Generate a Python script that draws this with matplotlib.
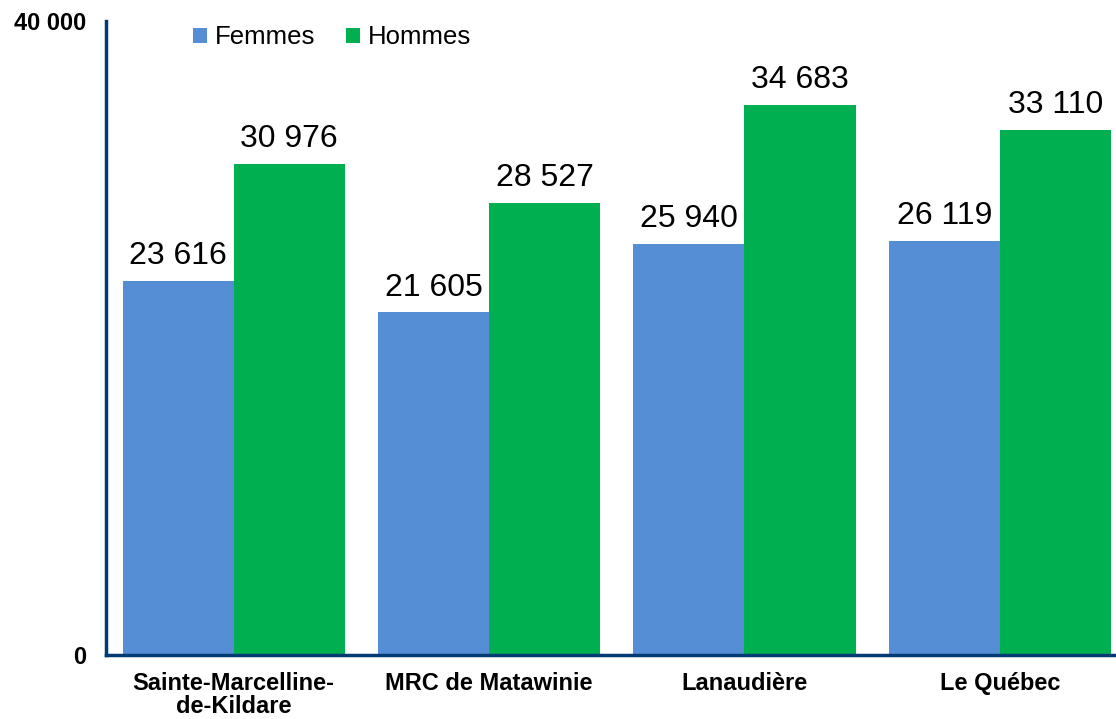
import matplotlib.pyplot as plt
import numpy as np

plt.rcParams['font.family'] = ['Liberation Sans', 'DejaVu Sans']

categories = ['Sainte-Marcelline-\nde-Kildare', 'MRC de Matawinie', 'Lanaudière', 'Le Québec']
femmes = [23616, 21605, 25940, 26119]
hommes = [30976, 28527, 34683, 33110]
y_ticks = [0, 40000]

col_f = '#558ED5'
col_h = '#00B050'
navy = '#003A75'


def fmt(v):
    return '{:,}'.format(v).replace(',', ' ')


fig = plt.figure(figsize=(11.16, 7.19), dpi=100)
ax = fig.add_axes([0.095, 0.089, 0.905, 0.882])

x = np.arange(len(categories))
w = 0.435
bars_f = ax.bar(x - w / 2, femmes, w, color=col_f, label='Femmes')
bars_h = ax.bar(x + w / 2, hommes, w, color=col_h, label='Hommes')

for bars, vals in [(bars_f, femmes), (bars_h, hommes)]:
    for b, v in zip(bars, vals):
        ax.annotate(fmt(v), (b.get_x() + b.get_width() / 2, v),
                    xytext=(0, 7), textcoords='offset points',
                    ha='center', va='bottom', fontsize=23)

ax.set_xlim(-0.5, 3.455)
ax.set_ylim(0, 40000)
ax.set_yticks(y_ticks)
ax.set_yticklabels([fmt(v) for v in y_ticks], fontsize=17, fontweight='bold')
ax.set_xticks(x)
ax.set_xticklabels(categories, fontsize=17, fontweight='bold', linespacing=1.0)
ax.tick_params(axis='x', length=0, pad=12)
ax.tick_params(axis='y', length=0, pad=14)

for s in ['top', 'right']:
    ax.spines[s].set_visible(False)
for s in ['left', 'bottom']:
    ax.spines[s].set_color(navy)
    ax.spines[s].set_linewidth(2.5)

fig.legend(loc='center left', bbox_to_anchor=(0.164, 0.948), ncol=2, frameon=False,
           fontsize=18.5, handlelength=0.55, handleheight=0.55, handletextpad=0.3,
           columnspacing=1.2, borderaxespad=0)

fig.savefig('out.png', dpi=100)
